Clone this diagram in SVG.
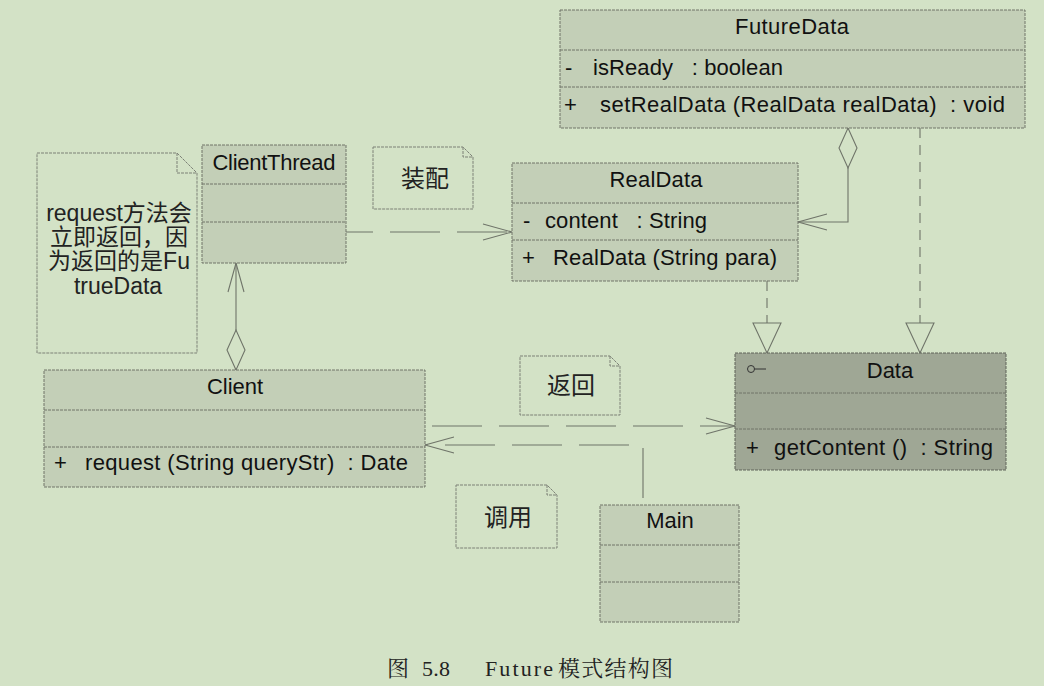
<svg xmlns="http://www.w3.org/2000/svg" width="1044" height="686" viewBox="0 0 1044 686">
<defs>
<style>
.bg{fill:#d3e2c6}
.cls{fill:#c3cfb7;stroke:#707568;stroke-width:1;stroke-dasharray:3 1}
.dark{fill:#9fa795;stroke:#5e6358;stroke-width:1;stroke-dasharray:3 1}
.div{stroke:#707568;stroke-width:1;stroke-dasharray:3 1;fill:none}
.note{fill:none;stroke:#7c8176;stroke-width:1;stroke-dasharray:3 1}
.t{font-family:"Liberation Sans",Arial,sans-serif;font-size:22px;fill:#111}
.tc{font-family:"Liberation Sans",Arial,sans-serif;font-size:22px;fill:#111;text-anchor:middle}
.cjk{font-family:"Liberation Sans","Noto Sans CJK SC",sans-serif;font-size:24px;fill:#222;text-anchor:middle}
.nt{font-family:"Liberation Sans","Noto Sans CJK SC",sans-serif;font-size:23px;fill:#222;text-anchor:middle}
.cap{font-family:"Liberation Serif","Noto Serif CJK SC","Noto Sans CJK SC",serif;font-size:22px;fill:#222}
.ln{fill:none;stroke:#6f7469;stroke-width:1.1}
.dep{fill:none;stroke:#6f7469;stroke-width:1.1;stroke-dasharray:50 17}
.real{fill:none;stroke:#6f7469;stroke-width:1.1;stroke-dasharray:10 7}
</style>
<marker id="open" markerUnits="userSpaceOnUse" viewBox="-32 -10 34 20" refX="0" refY="0" markerWidth="34" markerHeight="20" orient="auto">
<path d="M-29,-8 L0,0 L-29,8" fill="none" stroke="#6f7469" stroke-width="1.1"/>
</marker>
<marker id="tri" markerUnits="userSpaceOnUse" viewBox="-32 -16 34 32" refX="0" refY="0" markerWidth="34" markerHeight="32" orient="auto">
<path d="M-30,-14 L0,0 L-30,14 Z" fill="#d3e2c6" stroke="#6f7469" stroke-width="1.1"/>
</marker>
<marker id="dia" markerUnits="userSpaceOnUse" viewBox="-2 -12 44 24" refX="0" refY="0" markerWidth="44" markerHeight="24" orient="auto">
<path d="M0,0 L20,-9 L40,0 L20,9 Z" fill="#d3e2c6" stroke="#6f7469" stroke-width="1.1"/>
</marker>
</defs>
<rect class="bg" x="0" y="0" width="1044" height="686"/>

<g id="connectors">
<path class="ln" d="M236,370 V263" marker-start="url(#dia)" marker-end="url(#open)"/>
<path class="ln" d="M848,128 V222 H798" marker-start="url(#dia)" marker-end="url(#open)"/>
<path class="real" d="M920,128 V353" marker-end="url(#tri)"/>
<path class="real" d="M767,281 V353" marker-end="url(#tri)"/>
<path class="dep" stroke-dashoffset="23" d="M346,232 H512" marker-end="url(#open)"/>
<path class="dep" d="M432,426 H735" marker-end="url(#open)"/>
<path class="dep" stroke-dashoffset="60" d="M643,505 V445 H425" marker-end="url(#open)"/>
</g>

<g id="FutureData">
<rect class="cls" x="560" y="10" width="465" height="118"/>
<line class="div" x1="560" y1="50" x2="1025" y2="50"/>
<line class="div" x1="560" y1="87" x2="1025" y2="87"/>
<text class="tc" x="792" y="34" textLength="114">FutureData</text>
<text class="t" x="565" y="75">-</text>
<text class="t" x="593" y="75" textLength="190" xml:space="preserve">isReady   : boolean</text>
<text class="t" x="564" y="112">+</text>
<text class="t" x="600" y="112" textLength="405" xml:space="preserve">setRealData (RealData realData)  : void</text>
</g>

<g id="ClientThread">
<rect class="cls" x="202" y="145" width="144" height="118"/>
<line class="div" x1="202" y1="184" x2="346" y2="184"/>
<line class="div" x1="202" y1="222" x2="346" y2="222"/>
<text class="tc" x="274" y="170" textLength="123">ClientThread</text>
</g>

<g id="RealData">
<rect class="cls" x="512" y="163" width="286" height="118"/>
<line class="div" x1="512" y1="203" x2="798" y2="203"/>
<line class="div" x1="512" y1="240" x2="798" y2="240"/>
<text class="tc" x="656" y="187" textLength="93">RealData</text>
<text class="t" x="523" y="228">-</text>
<text class="t" x="545" y="228" textLength="162" xml:space="preserve">content   : String</text>
<text class="t" x="522" y="265">+</text>
<text class="t" x="553" y="265" textLength="224">RealData (String para)</text>
</g>

<g id="Data">
<rect class="dark" x="735" y="353" width="271" height="117"/>
<line class="div" x1="735" y1="393" x2="1006" y2="393"/>
<line class="div" x1="735" y1="429" x2="1006" y2="429"/>
<circle cx="751" cy="369" r="3.5" fill="none" stroke="#333" stroke-width="1"/>
<line x1="754.5" y1="369" x2="766" y2="369" stroke="#333" stroke-width="1"/>
<text class="tc" x="890" y="378">Data</text>
<text class="t" x="746" y="455">+</text>
<text class="t" x="774" y="455" textLength="219" xml:space="preserve">getContent ()  : String</text>
</g>

<g id="Client">
<rect class="cls" x="44" y="370" width="381" height="117"/>
<line class="div" x1="44" y1="410" x2="425" y2="410"/>
<line class="div" x1="44" y1="447" x2="425" y2="447"/>
<text class="tc" x="235" y="394">Client</text>
<text class="t" x="54" y="470">+</text>
<text class="t" x="85" y="470" textLength="323" xml:space="preserve">request (String queryStr)  : Date</text>
</g>

<g id="Main">
<rect class="cls" x="600" y="505" width="139" height="117"/>
<line class="div" x1="600" y1="545" x2="739" y2="545"/>
<line class="div" x1="600" y1="582" x2="739" y2="582"/>
<text class="tc" x="670" y="528">Main</text>
</g>

<g id="note-request">
<path class="note" d="M37,153 H177 L197,173 V353 H37 Z M177,153 V173 H197"/>
<text class="nt" x="119" y="221">request方法会</text>
<text class="nt" x="119" y="245">立即返回，因</text>
<text class="nt" x="119" y="269">为返回的是Fu</text>
<text class="nt" x="118" y="294">trueData</text>
</g>

<g id="note-zhuangpei">
<path class="note" d="M373,147 H463 L473,157 V209 H373 Z M463,147 V157 H473"/>
<text class="cjk" x="425" y="187">装配</text>
</g>

<g id="note-fanhui">
<path class="note" d="M520,356 H610 L620,366 V415 H520 Z M610,356 V366 H620"/>
<text class="cjk" x="571" y="394">返回</text>
</g>

<g id="note-diaoyong">
<path class="note" d="M456,485 H547 L557,495 V548 H456 Z M547,485 V495 H557"/>
<text class="cjk" x="508" y="526">调用</text>
</g>

<g id="caption">
<text class="cap" x="387" y="676">图</text>
<text class="cap" x="422" y="676" textLength="28">5.8</text>
<text class="cap" x="485" y="676" textLength="68">Future</text>
<text class="cap" x="558" y="676" textLength="115">模式结构图</text>
</g>
</svg>
